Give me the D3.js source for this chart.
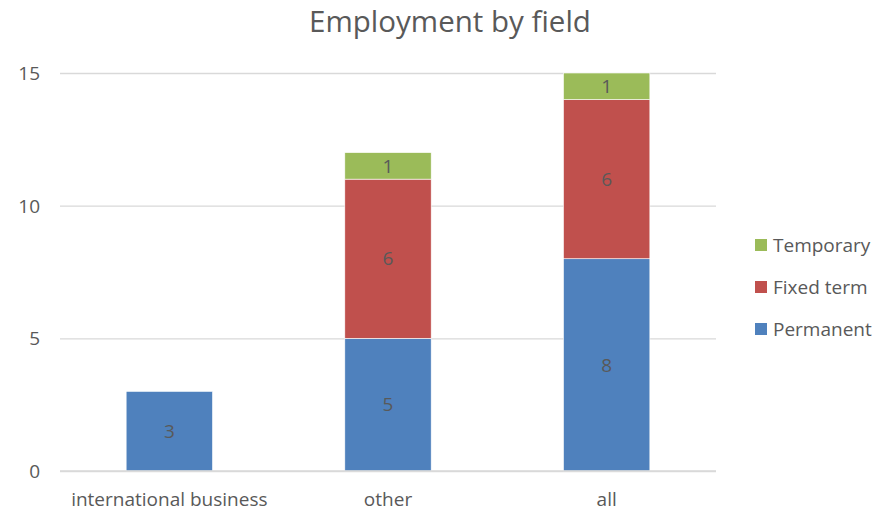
<!DOCTYPE html>
<html><head><meta charset="utf-8">
<script src="https://cdn.jsdelivr.net/npm/d3@7"></script>
<style>body{margin:0;background:#fff}svg{display:block}text{font-family:"Open Sans","Liberation Sans",sans-serif;fill:#595959}</style>
</head><body><svg id="c" width="880" height="514"></svg>
<script>
const categories = ["international business", "other", "all"];
const seriesNames = ["Permanent", "Fixed term", "Temporary"];
const permanent = [3, 5, 8];
const fixedTerm = [0, 6, 6];
const temporary = [0, 1, 1];
const yTicks = [0, 5, 10, 15];
const colors = ["#4f81bd", "#c0504d", "#9bbb59"];

const svg = d3.select("#c");
const m = {left: 60, right: 716, top: 73, bottom: 471};
const x = d3.scaleBand().domain(categories).range([m.left, m.right]).padding(0);
const y = d3.scaleLinear().domain([0, 15]).range([m.bottom, m.top]);
const barW = x.bandwidth() * 0.395;

svg.append("text").attr("x", 450).attr("y", 32).attr("text-anchor", "middle")
  .style("font-size", "29.5px").text("Employment by field");

const yAxis = d3.axisLeft(y).tickValues(yTicks).tickSize(-(m.right - m.left)).tickPadding(20);
const ga = svg.append("g").attr("transform", `translate(${m.left},0)`).call(yAxis);
ga.select(".domain").remove();
ga.selectAll("line").attr("stroke", "#d9d9d9").attr("stroke-width", 1.3);
ga.selectAll("text").style("font-size", "19px").attr("fill", "#595959").attr("dy", "0.35em");

const table = categories.map((c, i) => ({cat: c, Permanent: permanent[i], "Fixed term": fixedTerm[i], Temporary: temporary[i]}));
const stack = d3.stack().keys(seriesNames)(table);

stack.forEach((s, si) => {
  const g = svg.append("g");
  s.forEach((d, i) => {
    if (d[1] - d[0] <= 0) return;
    const cx = x(d.data.cat) + x.bandwidth() / 2;
    g.append("rect").attr("x", cx - barW / 2).attr("width", barW)
      .attr("y", y(d[1])).attr("height", y(d[0]) - y(d[1]))
      .attr("fill", colors[si]).attr("stroke", "#fff").attr("stroke-width", 0.6);
    g.append("text").attr("x", cx).attr("y", (y(d[0]) + y(d[1])) / 2).attr("dy", "0.35em")
      .attr("text-anchor", "middle").style("font-size", "19px").attr("fill", "#404040")
      .text(d[1] - d[0]);
  });
});

// x axis baseline
svg.append("line").attr("x1", m.left).attr("x2", m.right).attr("y1", y(0)).attr("y2", y(0))
  .attr("stroke", "#d9d9d9").attr("stroke-width", 1.3);
const gx = svg.append("g").attr("transform", `translate(0,${m.bottom})`)
  .call(d3.axisBottom(x).tickSize(0).tickPadding(22));
gx.select(".domain").remove();
gx.selectAll("text").style("font-size", "19px").attr("fill", "#595959");

// legend
const legendOrder = [2, 1, 0];
const lg = svg.append("g");
legendOrder.forEach((si, k) => {
  const ly = 245 + k * 42;
  lg.append("rect").attr("x", 755).attr("y", ly - 6).attr("width", 12).attr("height", 12).attr("fill", colors[si]);
  lg.append("text").attr("x", 773).attr("y", ly).attr("dy", "0.35em").style("font-size", "19px").text(seriesNames[si]);
});
</script></body></html>
